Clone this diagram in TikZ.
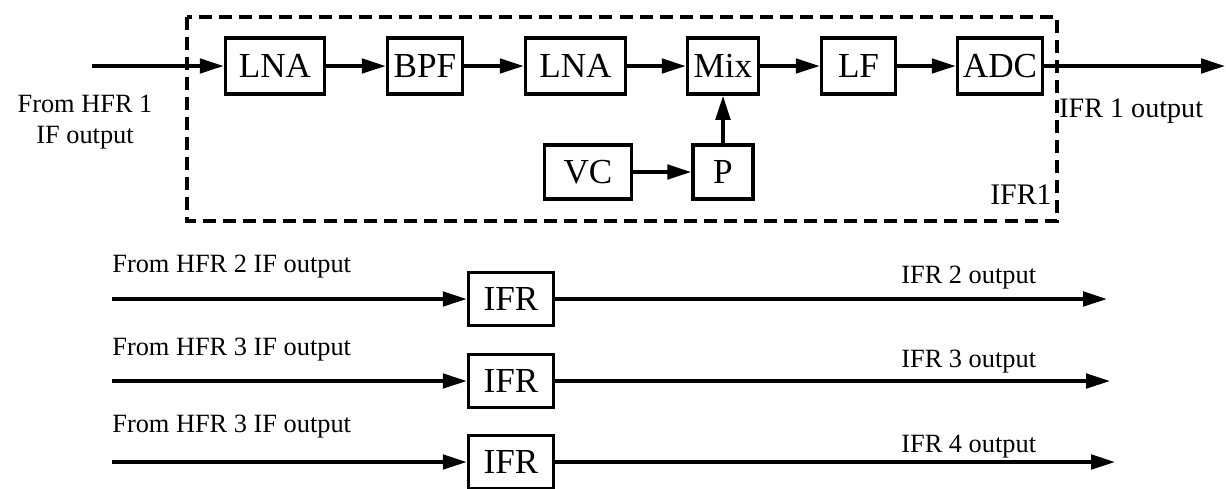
\documentclass[tikz,border=0pt]{standalone}
\usepackage{fontspec}
\setmainfont{Liberation Serif}
\usetikzlibrary{arrows.meta,positioning}

\begin{document}
\begin{tikzpicture}[x=0.02cm,y=-0.02cm,
  font=\fontsize{15}{18}\selectfont,
  block/.style={draw,line width=2pt,minimum height=1.12cm,inner sep=0pt,
    font=\fontsize{20}{24}\selectfont},
  signal/.style={line width=2pt,-{Triangle[length=0.48cm,width=0.29cm]}},
  caption/.style={inner sep=0pt}]
  \path[use as bounding box] (0,0) rectangle (1226,488);

  % IFR 1 chain inside the dashed frame
  \draw[line width=2pt,dash pattern=on 7.4pt off 4pt] (187,17) rectangle (1057,221);
  \node[block,minimum width=1.98cm] (lnaA) at (275,66) {LNA};
  \node[block,minimum width=1.50cm] (bpf)  at (425,66) {BPF};
  \node[block,minimum width=2.00cm] (lnaB) at (575.5,66) {LNA};
  \node[block,minimum width=1.42cm] (mix)  at (723,66) {Mix};
  \node[block,minimum width=1.48cm] (lf)   at (858.5,66) {LF};
  \node[block,minimum width=1.70cm] (adc)  at (1000,66) {ADC};
  \node[block,minimum width=1.74cm,minimum height=1.08cm] (vc) at (588,172) {VC};
  \node[block,minimum width=1.20cm,minimum height=1.08cm] (p)  at (723,172) {P};
  \coordinate (inA)  at (92,66);
  \coordinate (outA) at (1225,66);
  \draw[signal] (inA) -- (lnaA);
  \draw[signal] (lnaA) -- (bpf);
  \draw[signal] (bpf) -- (lnaB);
  \draw[signal] (lnaB) -- (mix);
  \draw[signal] (mix) -- (lf);
  \draw[signal] (lf) -- (adc);
  \draw[signal] (adc) -- (outA);
  \draw[signal] (vc) -- (p);
  \draw[signal] (p) -- (mix);
  \node[align=center] (srcA) at (85,122) {From HFR 1\\IF output};
  \node[caption,anchor=base west,font=\fontsize{16}{19}\selectfont] (outAlbl) at (1059,117) {IFR 1 output};
  \node[caption,anchor=base east,font=\fontsize{17}{20}\selectfont] (frameLbl) at (1052,204) {IFR1};

  % remaining receivers
  \foreach \k/\y/\src/\tip/\sy/\oy in {2/299/2/1107/272/283,3/381/3/1110/355/367,4/462/3/1115/432/452} {
    \node[block,minimum width=1.70cm,minimum height=1.06cm] (ifr\k) at (511,\y) {IFR};
    \coordinate (in\k)  at (112,\y);
    \coordinate (out\k) at (\tip,\y);
    \draw[signal] (in\k) -- (ifr\k);
    \draw[signal] (ifr\k) -- (out\k);
    \node[caption,anchor=base west] (src\k) at (112,\sy) {From HFR \src\ IF output};
    \node[caption,anchor=base west] (dst\k) at (901,\oy) {IFR \k\ output};
  }
\end{tikzpicture}
\end{document}
